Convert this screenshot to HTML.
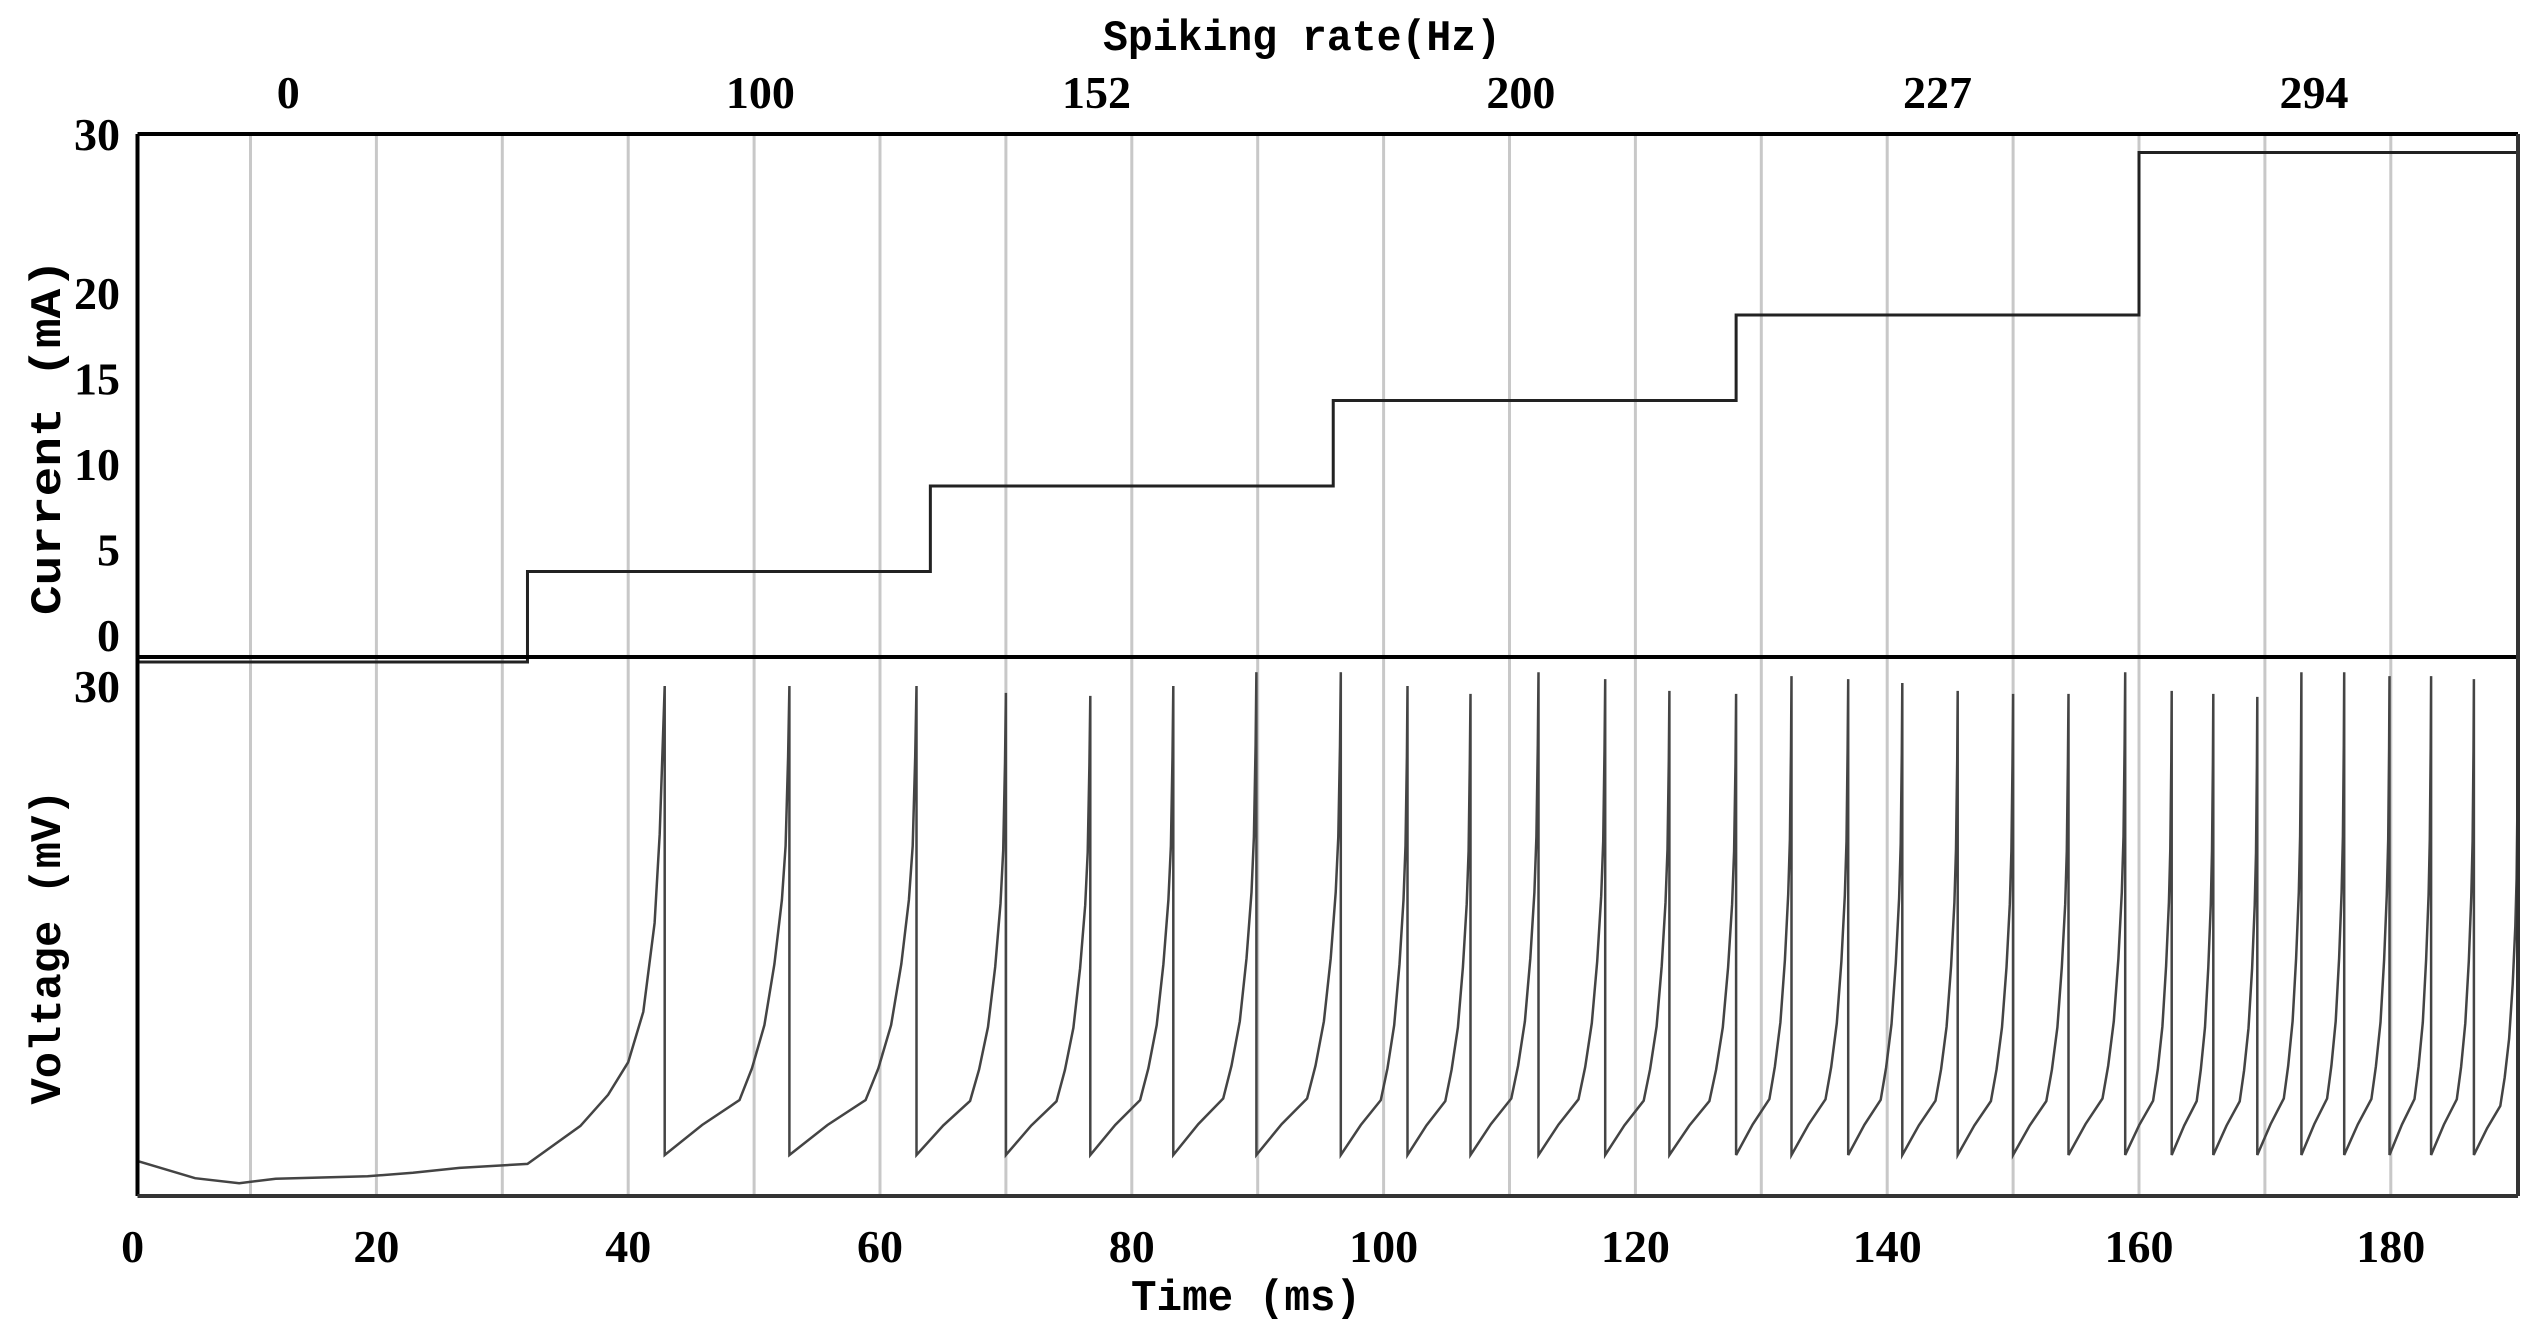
<!DOCTYPE html>
<html><head><meta charset="utf-8"><style>
html,body{margin:0;padding:0;background:#fff;}
svg{display:block;}
</style></head><body>
<svg id="chart" xmlns="http://www.w3.org/2000/svg" width="2537" height="1333" viewBox="0 0 2537 1333"></svg>
<script>
// ---- data ----
const gridTimes = [10,20,30,40,50,60,70,80,90,100,110,120,130,140,150,160,170,180];
const xTickValues = [0,20,40,60,80,100,120,140,160,180];
const currentTickValues = [0,5,10,15,20,30];
const stepTimes = [0,32,64,96,128,160,190];
const currentLevels = [0,5,10,15,20,29.5];
const rateLabels = ["0","100","152","200","227","294"];
const rateLabelTimes = [13,50.5,77.2,110.9,144,173.9];
const baselineT = [0,1,5.6,9.1,12,19.3,22.9,26.6,32,36.2,38.4,40,41.2,42.1,42.5,42.9];
const baselineV = [-66.3,-66.2,-69.7,-70.7,-69.8,-69.3,-68.6,-67.6,-66.8,-59.1,-52.8,-46.2,-36,-18,0,30];
const spikeTimes = [52.8,62.9,70.0,76.7,83.3,89.9,96.6,101.9,106.9,112.3,117.6,122.7,128.0,132.4,136.9,141.2,145.6,150.0,154.4,158.9,162.6,165.9,169.4,172.9,176.3,179.9,183.2,186.6];
const spikePeaks = [30,30,28.6,28,30,32.8,32.8,30,28.4,32.8,31.4,29,28.4,32,31.4,30.6,29,28.4,28.4,32.8,29,28.4,27.8,32.8,32.8,32,32,31.4];
const firstSpikeTime = 42.9;
const resetV = -65;
const endT = 190.1, endV = 20;
// interspike trajectory shape (fraction of interval -> fraction of reset..peak)
const shapeF = [0,0.3,0.6,0.7,0.8,0.88,0.94,0.97,0.99,1];
const shapeV = [0,0.064,0.117,0.185,0.277,0.407,0.544,0.659,0.849,1];

// ---- scales ----
const L=137.5, R=2518, T=134, MID=657, B=1196;
const x = t => 124.6 + 12.59*t;
const yI = v => 657 - 17.1*v;
const yV = v => 686 - (v-30)*4.937;

const svg = document.getElementById('chart');
const NS='http://www.w3.org/2000/svg';
function mk(tag, attrs, parent){
  const e=document.createElementNS(NS,tag);
  for(const k in attrs) e.setAttribute(k,attrs[k]);
  (parent||svg).appendChild(e); return e;
}

// gridlines
const gGrid = mk('g',{});


gridTimes.forEach(t=>{
  const l=mk('line',{x1:x(t),x2:x(t),y1:T,y2:B,stroke:'#c8c8c8','stroke-width':3},gGrid);
  
  
});

// current step trace
let d='';
stepTimes.slice(0,-1).forEach((t,i)=>{
  const y=yI(currentLevels[i]) + (i===0?5:0);
  d += (i===0?'M':'L')+x(i===0?1:t)+','+y+' L'+Math.min(x(stepTimes[i+1]),R)+','+y+' ';
});
const cur=mk('path',{d:d,fill:'none',stroke:'#222','stroke-width':3});



// voltage trace
let pts=[];
baselineT.forEach((t,i)=>pts.push([x(Math.max(t,1)),yV(baselineV[i])]));
let prev=firstSpikeTime;
pts.push([x(prev),yV(resetV)]);
spikeTimes.forEach((st,k)=>{
  const pk=spikePeaks[k];
  shapeF.forEach((f,j)=>{
    const t=prev+(st-prev)*f;
    const v=resetV+(pk-resetV)*shapeV[j];
    pts.push([x(t),yV(v)]);
  });
  pts.push([x(st),yV(resetV)]);
  prev=st;
});
// partial last rise
shapeF.forEach((f,j)=>{
  const t=prev+(endT-prev)*f;
  const v=resetV+(endV-resetV)*shapeV[j];
  pts.push([x(t),yV(v)]);
});
const vp=mk('polyline',{points:pts.map(p=>p[0].toFixed(1)+','+p[1].toFixed(1)).join(' '),fill:'none',stroke:'#444','stroke-width':2.5,'stroke-linejoin':'miter'});



// frame
[[L,T,R,T,'#000'],[L,T,L,B,'#000'],[L,MID,R,MID,'#000'],[L,B,R,B,'#333'],[R,T,R,B,'#333']].forEach((a,i)=>{
  const l=mk('line',{x1:a[0],y1:a[1],x2:a[2],y2:a[3],stroke:a[4],'stroke-width':4});
  
  
});

const serif='font-family:"Liberation Serif",serif;font-weight:bold;font-size:46px;';
const mono='font-family:"Liberation Mono",monospace;font-weight:bold;';
// current ticks
currentTickValues.forEach(v=>{
  const t=mk('text',{x:120,y:(v===30?T:yI(v)-22)+16,'text-anchor':'end',style:serif});
  t.textContent=v;
  
  
});
// voltage tick
const vt=mk('text',{x:120,y:yV(30)+16,'text-anchor':'end',style:serif});
vt.textContent='30';


// x ticks
xTickValues.forEach(v=>{
  const t=mk('text',{x:x(v)+(v===0?8:0),y:1262,'text-anchor':'middle',style:serif});
  t.textContent=v;
  
  
});
// rate labels
rateLabels.forEach((s,i)=>{
  const t=mk('text',{x:x(rateLabelTimes[i]),y:108,'text-anchor':'middle',style:serif});
  t.textContent=s;
  
  
});
// titles
function title(txt,xx,yy,len,rot,name){
  const t=mk('text',{x:xx,y:yy,'text-anchor':'middle',textLength:len,lengthAdjust:'spacingAndGlyphs',style:mono+'font-size:44px;',transform:rot?`rotate(-90 ${xx} ${yy})`:''});
  t.textContent=txt;
  
  
}
title('Spiking rate(Hz)',1302,50,398,false,'top-axis-title');
title('Time (ms)',1246,1310,230,false,'x-axis-title');
title('Current (mA)',60,437,356,true,'current-axis-title');
title('Voltage (mV)',60,947,315,true,'voltage-axis-title');
</script>
</body></html>
